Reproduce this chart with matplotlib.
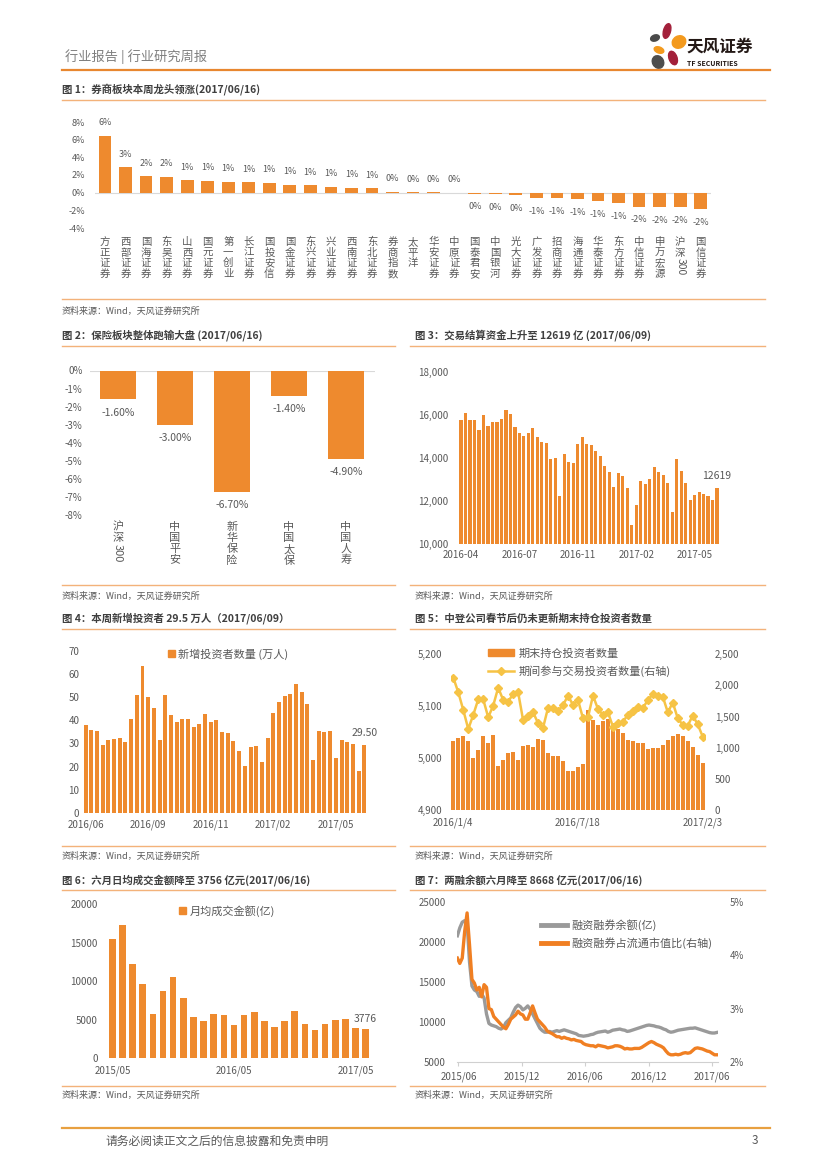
import numpy as np
import pandas as pd
import matplotlib
matplotlib.use('Agg')
import matplotlib.pyplot as plt
from matplotlib.patches import Ellipse, Rectangle
from matplotlib.lines import Line2D
from matplotlib.ticker import FuncFormatter

plt.rcParams['font.family'] = ['Noto Sans CJK SC', 'DejaVu Sans']
plt.rcParams['axes.unicode_minus'] = False

# ---------------- data ----------------
c1_names = ['方正证券', '西部证券', '国海证券', '东吴证券', '山西证券', '国元证券', '第一创业', '长江证券',
            '国投安信', '国金证券', '东兴证券', '兴业证券', '西南证券', '东北证券', '券商指数', '太平洋',
            '华安证券', '中原证券', '国泰君安', '中国银河', '光大证券', '广发证券', '招商证券', '海通证券',
            '华泰证券', '东方证券', '中信证券', '申万宏源', '沪深300', '国信证券']
c1_vals = [6.45, 2.87, 1.85, 1.81, 1.4, 1.36, 1.25, 1.17, 1.1, 0.9, 0.83, 0.64, 0.57, 0.52, 0.1, 0.03,
           0.02, 0.01, -0.1, -0.15, -0.3, -0.6, -0.65, -0.75, -0.95, -1.2, -1.6, -1.62, -1.62, -1.85]

c2_names = ['沪深300', '中国平安', '新华保险', '中国太保', '中国人寿']
c2_vals = [-1.6, -3.0, -6.7, -1.4, -4.9]

c3_vals = [15740, 16070, 15740, 15740, 15280, 15970, 15480, 15660, 15680, 15790,
           16220, 16020, 15420, 15170, 15010, 15140, 15370, 14980, 14740, 14700,
           13960, 13980, 12230, 14160, 13810, 13760, 14640, 14950, 14630, 14610,
           14320, 14090, 13640, 13340, 12660, 13310, 13140, 12620, 10870, 11800,
           12910, 12770, 13020, 13570, 13330, 13200, 12850, 11500, 13930, 13370,
           12820, 12030, 12260, 12430, 12320, 12230, 12030, 12619]
c3_ticks = [0, 13, 26, 39, 52]
c3_labels = ['2016-04', '2016-07', '2016-11', '2017-02', '2017-05']

c4_vals = [37.9, 35.6, 35.2, 29.5, 31.5, 31.9, 32.3, 30.6, 40.4, 50.7,
           63.4, 49.9, 45.3, 31.6, 51.0, 42.2, 39.1, 40.4, 40.5, 37.1,
           38.6, 42.5, 39.4, 40.1, 34.8, 34.3, 31.2, 26.7, 20.1, 28.3,
           29.0, 21.8, 32.5, 43.0, 48.0, 50.6, 51.3, 55.7, 52.0, 47.0,
           22.8, 35.2, 34.8, 35.3, 23.6, 31.5, 30.7, 29.9, 18.0, 29.5]
c4_ticks = [0, 11, 22, 33, 44]
c4_labels = ['2016/06', '2016/09', '2016/11', '2017/02', '2017/05']

c5_hold = [5032, 5039, 5042, 5032, 5001, 5015, 5042, 5029, 5045, 4985,
           4996, 5009, 5012, 4996, 5023, 5026, 5022, 5036, 5034, 5009,
           5005, 5005, 4994, 4975, 4975, 4982, 4988, 5093, 5073, 5064,
           5071, 5075, 5067, 5057, 5048, 5035, 5032, 5029, 5030, 5017,
           5019, 5020, 5025, 5035, 5043, 5046, 5043, 5033, 5022, 5006, 4991]
c5_trade = [2125, 1890, 1606, 1301, 1526, 1777, 1777, 1488, 1676, 1964,
            1767, 1740, 1863, 1890, 1440, 1510, 1569, 1392, 1322, 1644,
            1633, 1590, 1686, 1836, 1686, 1767, 1472, 1488, 1836, 1622,
            1526, 1569, 1338, 1392, 1419, 1526, 1590, 1660, 1633, 1767,
            1858, 1836, 1820, 1569, 1724, 1472, 1365, 1354, 1515, 1376, 1178]
c5_ticks = [0, 25, 50]
c5_labels = ['2016/1/4', '2016/7/18', '2017/2/3']

c6_vals = [15500, 17320, 12210, 9700, 5760, 8790, 10560, 7880, 5330, 4850,
           5760, 5630, 4290, 5670, 6020, 4850, 4070, 4810, 6150, 4420,
           3720, 4420, 4980, 5070, 3940, 3776]
c6_ticks = [0, 12, 24]
c6_labels = ['2015/05', '2016/05', '2017/05']

c7_dates = pd.date_range('2015-05-29', periods=108, freq='7D')
c7_balance = [20800, 21800, 22500, 22700, 22400, 17500, 14500, 14000, 13800, 13200,
              13500, 13000, 11000, 9800, 9600, 9500, 9400, 9200, 9100, 9300,
              9900, 10200, 10500, 11200, 11800, 12100, 11900, 11500, 11700, 12000,
              11600, 11000, 10400, 9800, 9200, 8900, 8700, 8700, 8800, 8700,
              8800, 8900, 8800, 8900, 9000, 8900, 8800, 8700, 8600, 8500,
              8300, 8250, 8200, 8250, 8300, 8400, 8450, 8600, 8700, 8750,
              8800, 8850, 8700, 8800, 8950, 9000, 9050, 9100, 9000, 8950,
              8800, 8850, 8950, 9050, 9150, 9250, 9350, 9450, 9550, 9600,
              9550, 9500, 9400, 9350, 9250, 9100, 9000, 8800, 8700, 8750,
              8850, 8950, 9000, 9050, 9100, 9150, 9200, 9200, 9250, 9150,
              9050, 8950, 8850, 8750, 8650, 8600, 8600, 8668]
c7_ratio = [3.95, 3.85, 3.95, 4.45, 4.80, 4.20, 3.55, 3.48, 3.35, 3.40,
            3.22, 3.45, 3.40, 3.00, 2.98, 2.85, 2.80, 2.75, 2.70, 2.65,
            2.62, 2.70, 2.80, 2.84, 2.88, 2.95, 2.90, 2.88, 2.80, 2.80,
            2.92, 3.05, 2.92, 2.80, 2.75, 2.70, 2.65, 2.58, 2.55, 2.53,
            2.50, 2.47, 2.47, 2.44, 2.46, 2.44, 2.43, 2.41, 2.42, 2.40,
            2.39, 2.38, 2.34, 2.32, 2.31, 2.30, 2.30, 2.28, 2.31, 2.30,
            2.29, 2.28, 2.26, 2.27, 2.28, 2.30, 2.30, 2.29, 2.27, 2.24,
            2.25, 2.24, 2.24, 2.25, 2.25, 2.25, 2.27, 2.30, 2.33, 2.36,
            2.38, 2.36, 2.33, 2.31, 2.29, 2.26, 2.20, 2.15, 2.13, 2.13,
            2.14, 2.13, 2.14, 2.16, 2.17, 2.16, 2.17, 2.21, 2.25, 2.26,
            2.25, 2.24, 2.22, 2.20, 2.19, 2.16, 2.13, 2.13]
c7_ticks = ['2015-06-01', '2015-12-01', '2016-06-01', '2016-12-01', '2017-06-01']
c7_labels = ['2015/06', '2015/12', '2016/06', '2016/12', '2017/06']

# ---------------- page helpers ----------------
W, H = 827, 1169
ORANGE = '#EE8A2E'
SEP = '#F3B27A'
TXT = '#595959'
fig = plt.figure(figsize=(W / 100, H / 100), dpi=100)


def box(x0, y0, x1, y1):
    return [x0 / W, 1 - y1 / H, (x1 - x0) / W, (y1 - y0) / H]


def ftext(x, y, s, **kw):
    kw.setdefault('va', 'center')
    fig.text(x / W, 1 - y / H, s, **kw)


def hline(x0, x1, y, color=SEP, lw=1.0):
    fig.add_artist(Line2D([x0 / W, x1 / W], [1 - y / H, 1 - y / H], color=color, lw=lw))


def clean(ax, fs=7):
    for s in ax.spines.values():
        s.set_visible(False)
    ax.tick_params(length=0, labelsize=fs, colors=TXT)


def vlabel(ax, x, s, first_off, step, fs):
    # stacked vertical category label, digit runs rotated
    tr = ax.get_xaxis_transform()
    k = 0.0
    i = 0
    while i < len(s):
        if s[i].isdigit():
            j = i
            while j < len(s) and s[j].isdigit():
                j += 1
            run = s[i:j]
            L = len(run) * 0.58 * fs
            top = first_off + (k - 0.5) * step
            ax.annotate(run, (x, 0), xycoords=tr, xytext=(0, -(top + L / 2)), textcoords='offset points',
                        rotation=-90, ha='center', va='center', fontsize=fs, color=TXT)
            k += L / step
            i = j
        else:
            ax.annotate(s[i], (x, 0), xycoords=tr, xytext=(0, -(first_off + k * step)),
                        textcoords='offset points', ha='center', va='center', fontsize=fs, color=TXT)
            k += 1
            i += 1


pct = FuncFormatter(lambda v, _: f'{v:.0f}%')
comma = FuncFormatter(lambda v, _: f'{v:,.0f}')

# ---------------- header / footer ----------------
ftext(65, 57, '行业报告 | 行业研究周报', fontsize=9.5, color='#7F7F7F')
hline(62, 770, 70, color='#E8872F', lw=1.6)
lg = fig.add_axes(box(638, 18, 688, 74))
lg.set_xlim(638, 688)
lg.set_ylim(74, 18)
lg.axis('off')
for (cx, cy, w, h, a, col) in [(655, 38, 9, 6, -20, '#4A4A4A'), (667, 31, 7, 15, 15, '#A3203A'),
                              (679, 42, 14, 12, -30, '#F39A1E'), (659, 50, 10, 6, 20, '#F39A1E'),
                              (673, 58, 8, 14, -20, '#A3203A'), (658, 62, 11, 13, -30, '#4D4D4D')]:
    lg.add_patch(Ellipse((cx, cy), w, h, angle=a, color=col))
ftext(686, 47, '天风证券', fontsize=12, fontweight='bold', color='#231815')
ftext(687, 63, 'TF SECURITIES', fontsize=5, fontweight='bold', color='#231815')

hline(62, 770, 1128, color='#E8A040', lw=1.6)
ftext(105, 1141, '请务必阅读正文之后的信息披露和免责申明', fontsize=8.5, color=TXT)
ftext(752, 1141, '3', fontsize=8.5, color=TXT)

# titles, separators, sources
titles = [(62, 89, '图 1：券商板块本周龙头领涨(2017/06/16)'),
          (62, 335, '图 2：保险板块整体跑输大盘 (2017/06/16)'),
          (415, 335, '图 3：交易结算资金上升至 12619 亿 (2017/06/09)'),
          (62, 618, '图 4：本周新增投资者 29.5 万人（2017/06/09）'),
          (415, 618, '图 5：中登公司春节后仍未更新期末持仓投资者数量'),
          (62, 880, '图 6：六月日均成交金额降至 3756 亿元(2017/06/16)'),
          (415, 880, '图 7：两融余额六月降至 8668 亿元(2017/06/16)')]
for x, y, t in titles:
    ftext(x, y, t, fontsize=7.5, fontweight='bold', color='#3F3F3F')
hline(62, 765, 100)
for y in (346, 629, 890):
    hline(62, 395, y)
    hline(410, 765, y)
src = '资料来源：Wind，天风证券研究所'
hline(62, 765, 299)
ftext(62, 311, src, fontsize=6.5, color=TXT)
for y_line, y_txt in ((585, 596), (846, 856), (1086, 1095)):
    hline(62, 395, y_line)
    hline(410, 765, y_line)
    ftext(62, y_txt, src, fontsize=6.5, color=TXT)
    ftext(415, y_txt, src, fontsize=6.5, color=TXT)

# ---------------- chart 1 ----------------
ax1 = fig.add_axes(box(94.7, 122, 711, 228))
x1 = np.arange(len(c1_vals))
ax1.bar(x1, c1_vals, width=0.62, color=ORANGE, zorder=2)
ax1.axhline(0, color='#D9D9D9', lw=0.8, zorder=1)
ax1.set_xlim(-0.5, len(c1_vals) - 0.5)
ax1.set_ylim(-4, 8)
ax1.set_yticks(range(-4, 9, 2))
ax1.yaxis.set_major_formatter(pct)
ax1.set_xticks([])
clean(ax1, 6.5)
ax1.tick_params(axis='y', pad=7)
for xi, v in zip(x1, c1_vals):
    off = 9.4 if v >= 0 else -9.4
    ax1.annotate(f'{int(round(v))}%', (xi, v), xytext=(0, off), textcoords='offset points',
                 ha='center', va='center', fontsize=6.5, color=TXT)
for xi, name in zip(x1, c1_names):
    vlabel(ax1, xi, name, 9.9, 7.75, 7.5)

# ---------------- chart 2 ----------------
ax2 = fig.add_axes(box(89.5, 370.5, 374.5, 515))
x2 = np.arange(len(c2_vals))
ax2.bar(x2, c2_vals, width=0.63, color=ORANGE, zorder=2)
ax2.axhline(0, color='#D9D9D9', lw=0.8, zorder=1)
ax2.set_xlim(-0.5, len(c2_vals) - 0.5)
ax2.set_ylim(-8, 0)
ax2.set_yticks(range(-8, 1))
ax2.yaxis.set_major_formatter(pct)
ax2.set_xticks([])
clean(ax2, 7)
ax2.tick_params(axis='y', pad=5)
for xi, v in zip(x2, c2_vals):
    ax2.annotate(f'{v:.2f}%', (xi, v), xytext=(0, -9.5), textcoords='offset points',
                 ha='center', va='center', fontsize=7.5, color=TXT)
for xi, name in zip(x2, c2_names):
    vlabel(ax2, xi, name, 8.6, 8.0, 8)

# ---------------- chart 3 ----------------
ax3 = fig.add_axes(box(458.8, 371.7, 719.3, 544))
x3 = np.arange(len(c3_vals))
ax3.bar(x3, c3_vals, width=0.7, color=ORANGE)
ax3.set_xlim(-0.5, len(c3_vals) - 0.5)
ax3.set_ylim(10000, 18000)
ax3.set_yticks(range(10000, 18001, 2000))
ax3.yaxis.set_major_formatter(comma)
ax3.set_xticks(c3_ticks)
ax3.set_xticklabels(c3_labels)
clean(ax3, 7)
ax3.tick_params(axis='y', pad=7.5)
ax3.tick_params(axis='x', pad=4)
ax3.annotate(f'{c3_vals[-1]}', (x3[-1], c3_vals[-1]), xytext=(0, 8.5), textcoords='offset points',
             ha='center', va='center', fontsize=7.5, color=TXT)

# ---------------- chart 4 ----------------
ax4 = fig.add_axes(box(82.8, 650.7, 367.1, 813))
x4 = np.arange(len(c4_vals))
ax4.bar(x4, c4_vals, width=0.7, color=ORANGE)
ax4.set_xlim(-0.5, len(c4_vals) - 0.5)
ax4.set_ylim(0, 70)
ax4.set_yticks(range(0, 71, 10))
ax4.set_xticks(c4_ticks)
ax4.set_xticklabels(c4_labels)
clean(ax4, 7)
ax4.tick_params(axis='y', pad=2.5)
ax4.tick_params(axis='x', pad=5)
ax4.annotate(f'{c4_vals[-1]:.2f}', (x4[-1], c4_vals[-1]), xytext=(0, 8.4), textcoords='offset points',
             ha='center', va='center', fontsize=7.5, color=TXT)
ax4.legend(handles=[Rectangle((0, 0), 1, 1, color=ORANGE)], labels=['新增投资者数量 (万人)'],
           loc='center', bbox_to_anchor=(228 / W, 1 - 654 / H), bbox_transform=fig.transFigure,
           frameon=False, fontsize=8, handlelength=0.6, handleheight=0.6, handletextpad=0.3,
           labelcolor=TXT)

# ---------------- chart 5 ----------------
ax5 = fig.add_axes(box(450.8, 654.3, 705.2, 810))
x5 = np.arange(len(c5_hold))
ax5.bar(x5, c5_hold, width=0.72, color=ORANGE, zorder=1)
ax5.set_xlim(-0.5, len(c5_hold) - 0.5)
ax5.set_ylim(4900, 5200)
ax5.set_yticks(range(4900, 5201, 100))
ax5.yaxis.set_major_formatter(comma)
ax5.set_xticks(c5_ticks)
ax5.set_xticklabels(c5_labels)
clean(ax5, 7)
ax5.tick_params(axis='y', pad=6)
ax5.tick_params(axis='x', pad=5.5)
ax5r = ax5.twinx()
ax5r.plot(x5, c5_trade, color='#F6C345', lw=1.8, marker='D', ms=4, zorder=3)
ax5r.set_ylim(0, 2500)
ax5r.set_yticks(range(0, 2501, 500))
ax5r.yaxis.set_major_formatter(comma)
clean(ax5r, 7)
ax5r.tick_params(axis='y', pad=7)
ax5.legend(handles=[Rectangle((0, 0), 1, 1, color=ORANGE),
                    Line2D([0], [0], color='#F6C345', lw=1.8, marker='D', ms=4)],
           labels=['期末持仓投资者数量', '期间参与交易投资者数量(右轴)'],
           loc='upper left', bbox_to_anchor=(482 / W, 1 - 643 / H), bbox_transform=fig.transFigure,
           frameon=False, fontsize=8, handlelength=2.4, handleheight=0.6, handletextpad=0.4,
           labelspacing=0.55, borderpad=0, labelcolor=TXT)

# ---------------- chart 6 ----------------
ax6 = fig.add_axes(box(107.3, 904.3, 370.8, 1058.3))
x6 = np.arange(len(c6_vals))
ax6.bar(x6, c6_vals, width=0.65, color=ORANGE)
ax6.set_xlim(-0.5, len(c6_vals) - 0.5)
ax6.set_ylim(0, 20000)
ax6.set_yticks(range(0, 20001, 5000))
ax6.set_xticks(c6_ticks)
ax6.set_xticklabels(c6_labels)
clean(ax6, 7)
ax6.tick_params(axis='y', pad=7)
ax6.tick_params(axis='x', pad=5.5)
ax6.annotate(f'{c6_vals[-1]}', (x6[-1], c6_vals[-1]), xytext=(0, 7.7), textcoords='offset points',
             ha='center', va='center', fontsize=7.5, color=TXT)
ax6.legend(handles=[Rectangle((0, 0), 1, 1, color=ORANGE)], labels=['月均成交金额(亿)'],
           loc='center', bbox_to_anchor=(227 / W, 1 - 911 / H), bbox_transform=fig.transFigure,
           frameon=False, fontsize=8, handlelength=0.6, handleheight=0.6, handletextpad=0.3,
           labelcolor=TXT)

# ---------------- chart 7 ----------------
ax7 = fig.add_axes(box(456.7, 902.3, 718.3, 1061.7))
ax7.plot(c7_dates, c7_balance, color='#9A9A9A', lw=2.4, zorder=2)
ax7.set_xlim(pd.Timestamp('2015-05-27'), pd.Timestamp('2017-06-20'))
ax7.set_ylim(5000, 25000)
ax7.set_yticks(range(5000, 25001, 5000))
ax7.set_xticks(pd.to_datetime(c7_ticks))
ax7.set_xticklabels(c7_labels)
clean(ax7, 7)
ax7.spines['bottom'].set_visible(True)
ax7.spines['bottom'].set_color('#D0D0D0')
ax7.tick_params(axis='x', length=3, color='#D0D0D0', pad=4)
ax7.tick_params(axis='y', pad=8)
ax7r = ax7.twinx()
ax7r.plot(c7_dates, c7_ratio, color='#F07F22', lw=2.4, zorder=3)
ax7r.set_ylim(2, 5)
ax7r.set_yticks([2, 3, 4, 5])
ax7r.yaxis.set_major_formatter(pct)
clean(ax7r, 7)
ax7r.tick_params(axis='y', pad=8.5)
ax7.legend(handles=[Line2D([0], [0], color='#9A9A9A', lw=3.5), Line2D([0], [0], color='#F07F22', lw=3.5)],
           labels=['融资融券余额(亿)', '融资融券占流通市值比(右轴)'],
           loc='upper left', bbox_to_anchor=(535 / W, 1 - 914 / H), bbox_transform=fig.transFigure,
           frameon=False, fontsize=8, handlelength=2.4, handletextpad=0.4, labelspacing=0.5,
           borderpad=0, labelcolor=TXT)

fig.savefig('out.png', dpi=100)
